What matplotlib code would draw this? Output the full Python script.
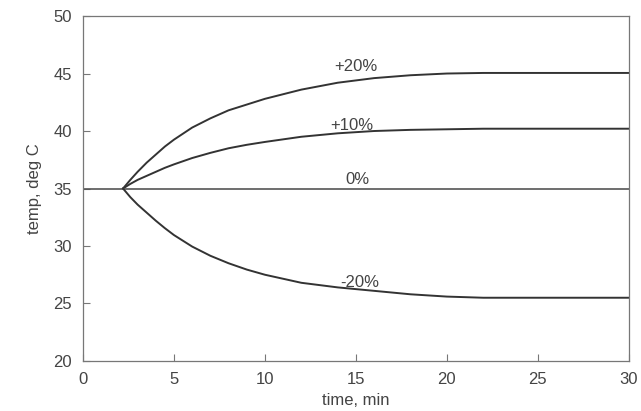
import matplotlib
matplotlib.use("Agg")
from matplotlib import pyplot as plt

# time, min
t = [2.2, 2.6, 3, 3.5, 4, 4.5, 5, 6, 7, 8, 9, 10, 12, 14, 16, 18, 20, 22, 25, 30]

# temperatures
p20 = [35, 35.75, 36.45, 37.25, 37.95, 38.65, 39.25, 40.3, 41.1, 41.8, 42.3, 42.8, 43.6, 44.2, 44.6, 44.85, 45.0, 45.05, 45.05, 45.05]
p10 = [35, 35.4, 35.75, 36.1, 36.45, 36.8, 37.1, 37.65, 38.1, 38.5, 38.8, 39.05, 39.5, 39.8, 40.0, 40.1, 40.15, 40.2, 40.2, 40.2]
m20 = [35, 34.25, 33.6, 32.9, 32.2, 31.55, 30.95, 29.95, 29.15, 28.5, 27.95, 27.5, 26.8, 26.4, 26.1, 25.8, 25.6, 25.5, 25.5, 25.5]

labels = ["+20%", "+10%", "0%", "-20%"]
label_pos = [(15.0, 45.6), (14.8, 40.5), (15.1, 35.8), (15.2, 26.8)]

plt.rcParams['font.family'] = ['Liberation Sans', 'DejaVu Sans']

fig = plt.figure(figsize=(6.41, 4.11), dpi=100)
ax = fig.add_axes([0.1295, 0.1217, 0.8515, 0.8393])

lc = '#333333'
ax.plot(t, p20, color=lc, lw=1.4)
ax.plot(t, p10, color=lc, lw=1.4)
ax.plot([0, 30], [35, 35], color='#555555', lw=1.2)
ax.plot(t, m20, color=lc, lw=1.4)

for s, (x, y) in zip(labels, label_pos):
    ax.text(x, y, s, ha='center', va='center', fontsize=12, color='#444444')

ax.set_xlim(0, 30)
ax.set_ylim(20, 50)
ax.set_xticks([0, 5, 10, 15, 20, 25, 30])
ax.set_yticks([20, 25, 30, 35, 40, 45, 50])
ax.tick_params(direction='in', length=5, width=0.8, color='#777777',
               labelsize=12, labelcolor='#444444', pad=8)
for sp in ax.spines.values():
    sp.set_color('#777777')
    sp.set_linewidth(0.9)

ax.set_xlabel('time, min', fontsize=12, color='#444444', labelpad=4)
ax.set_ylabel('temp, deg C', fontsize=12, color='#444444', labelpad=8)

fig.savefig('out.png', dpi=100)
